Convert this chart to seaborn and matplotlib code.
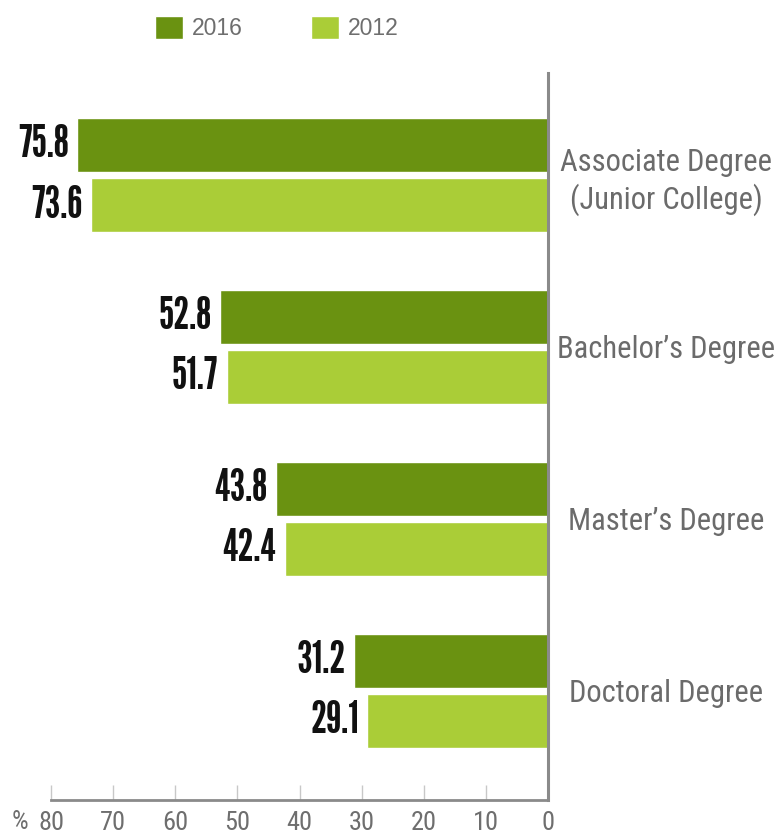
import matplotlib
matplotlib.use("Agg")
import matplotlib.pyplot as plt
import seaborn as sns
import pandas as pd

degrees = ["Associate Degree\n(Junior College)", "Bachelor\u2019s Degree",
           "Master\u2019s Degree", "Doctoral Degree"]
years = ["2016", "2012"]
values_2016 = [75.8, 52.8, 43.8, 31.2]
values_2012 = [73.6, 51.7, 42.4, 29.1]
x_ticks = [80, 70, 60, 50, 40, 30, 20, 10, 0]
colors = ["#6a9211", "#aacd37"]

df = pd.DataFrame({
    "degree": degrees * 2,
    "year": [years[0]] * 4 + [years[1]] * 4,
    "value": values_2016 + values_2012,
})

sns.set_theme(style="white")
COND = ["Roboto Condensed", "DejaVu Sans"]
GOTH = ["League Gothic", "Oswald", "DejaVu Sans"]
plt.rcParams["font.family"] = ["Liberation Sans", "DejaVu Sans"]

W, H = 774, 834
fig = plt.figure(figsize=(W / 100, H / 100), dpi=100)
ax = fig.add_axes([51 / W, 1 - 800 / H, (548 - 51) / W, (800 - 73) / H])

sns.barplot(data=df, y="degree", x="value", hue="year", order=degrees,
            hue_order=years, palette=colors, orient="h", width=0.698,
            gap=0.1, saturation=1, ax=ax)

ax.set_xlim(80, 0)
ax.set_ylim(3.634, -0.593)
ax.set_xlabel("")
ax.set_ylabel("")

# value labels
for cont in ax.containers:
    ax.bar_label(cont, fmt="%.1f", padding=6, fontsize=32,
                 color="#111111", family=GOTH)

# spines
for s in ["left", "top"]:
    ax.spines[s].set_visible(False)
ax.spines["right"].set_color("#8a8a8a")
ax.spines["right"].set_linewidth(2.2)
ax.spines["bottom"].set_color("#8a8a8a")
ax.spines["bottom"].set_linewidth(2.0)

# x ticks
ax.set_xticks(x_ticks)
ax.set_xticklabels([str(t) for t in x_ticks], family=COND, fontsize=19,
                   color="#6e6e6e")
ax.tick_params(axis="x", direction="in", length=11, width=1.0,
               color="#c8c8c8", pad=8, bottom=True)
ax.text(-0.062, -0.030, "%", transform=ax.transAxes, ha="center", va="center",
        family=COND, fontsize=19, color="#6e6e6e")

# y tick labels on right, centered
ax.yaxis.tick_right()
ax.tick_params(axis="y", length=0, pad=85)
for lab in ax.get_yticklabels():
    lab.set_ha("center")
    lab.set_multialignment("center")
    lab.set_family(COND)
    lab.set_fontsize(22)
    lab.set_color("#6b6b6b")
    lab.set_linespacing(1.25)

# legend
sns.move_legend(ax, loc="center", bbox_to_anchor=(277 / W, 1 - 28 / H),
                bbox_transform=fig.transFigure, ncol=2, frameon=False,
                title=None, fontsize=16.5, handlelength=1.2, handleheight=1.2,
                handletextpad=0.4, columnspacing=3.0, labelcolor="#6e6e6e")

fig.savefig("out.png", dpi=100)
